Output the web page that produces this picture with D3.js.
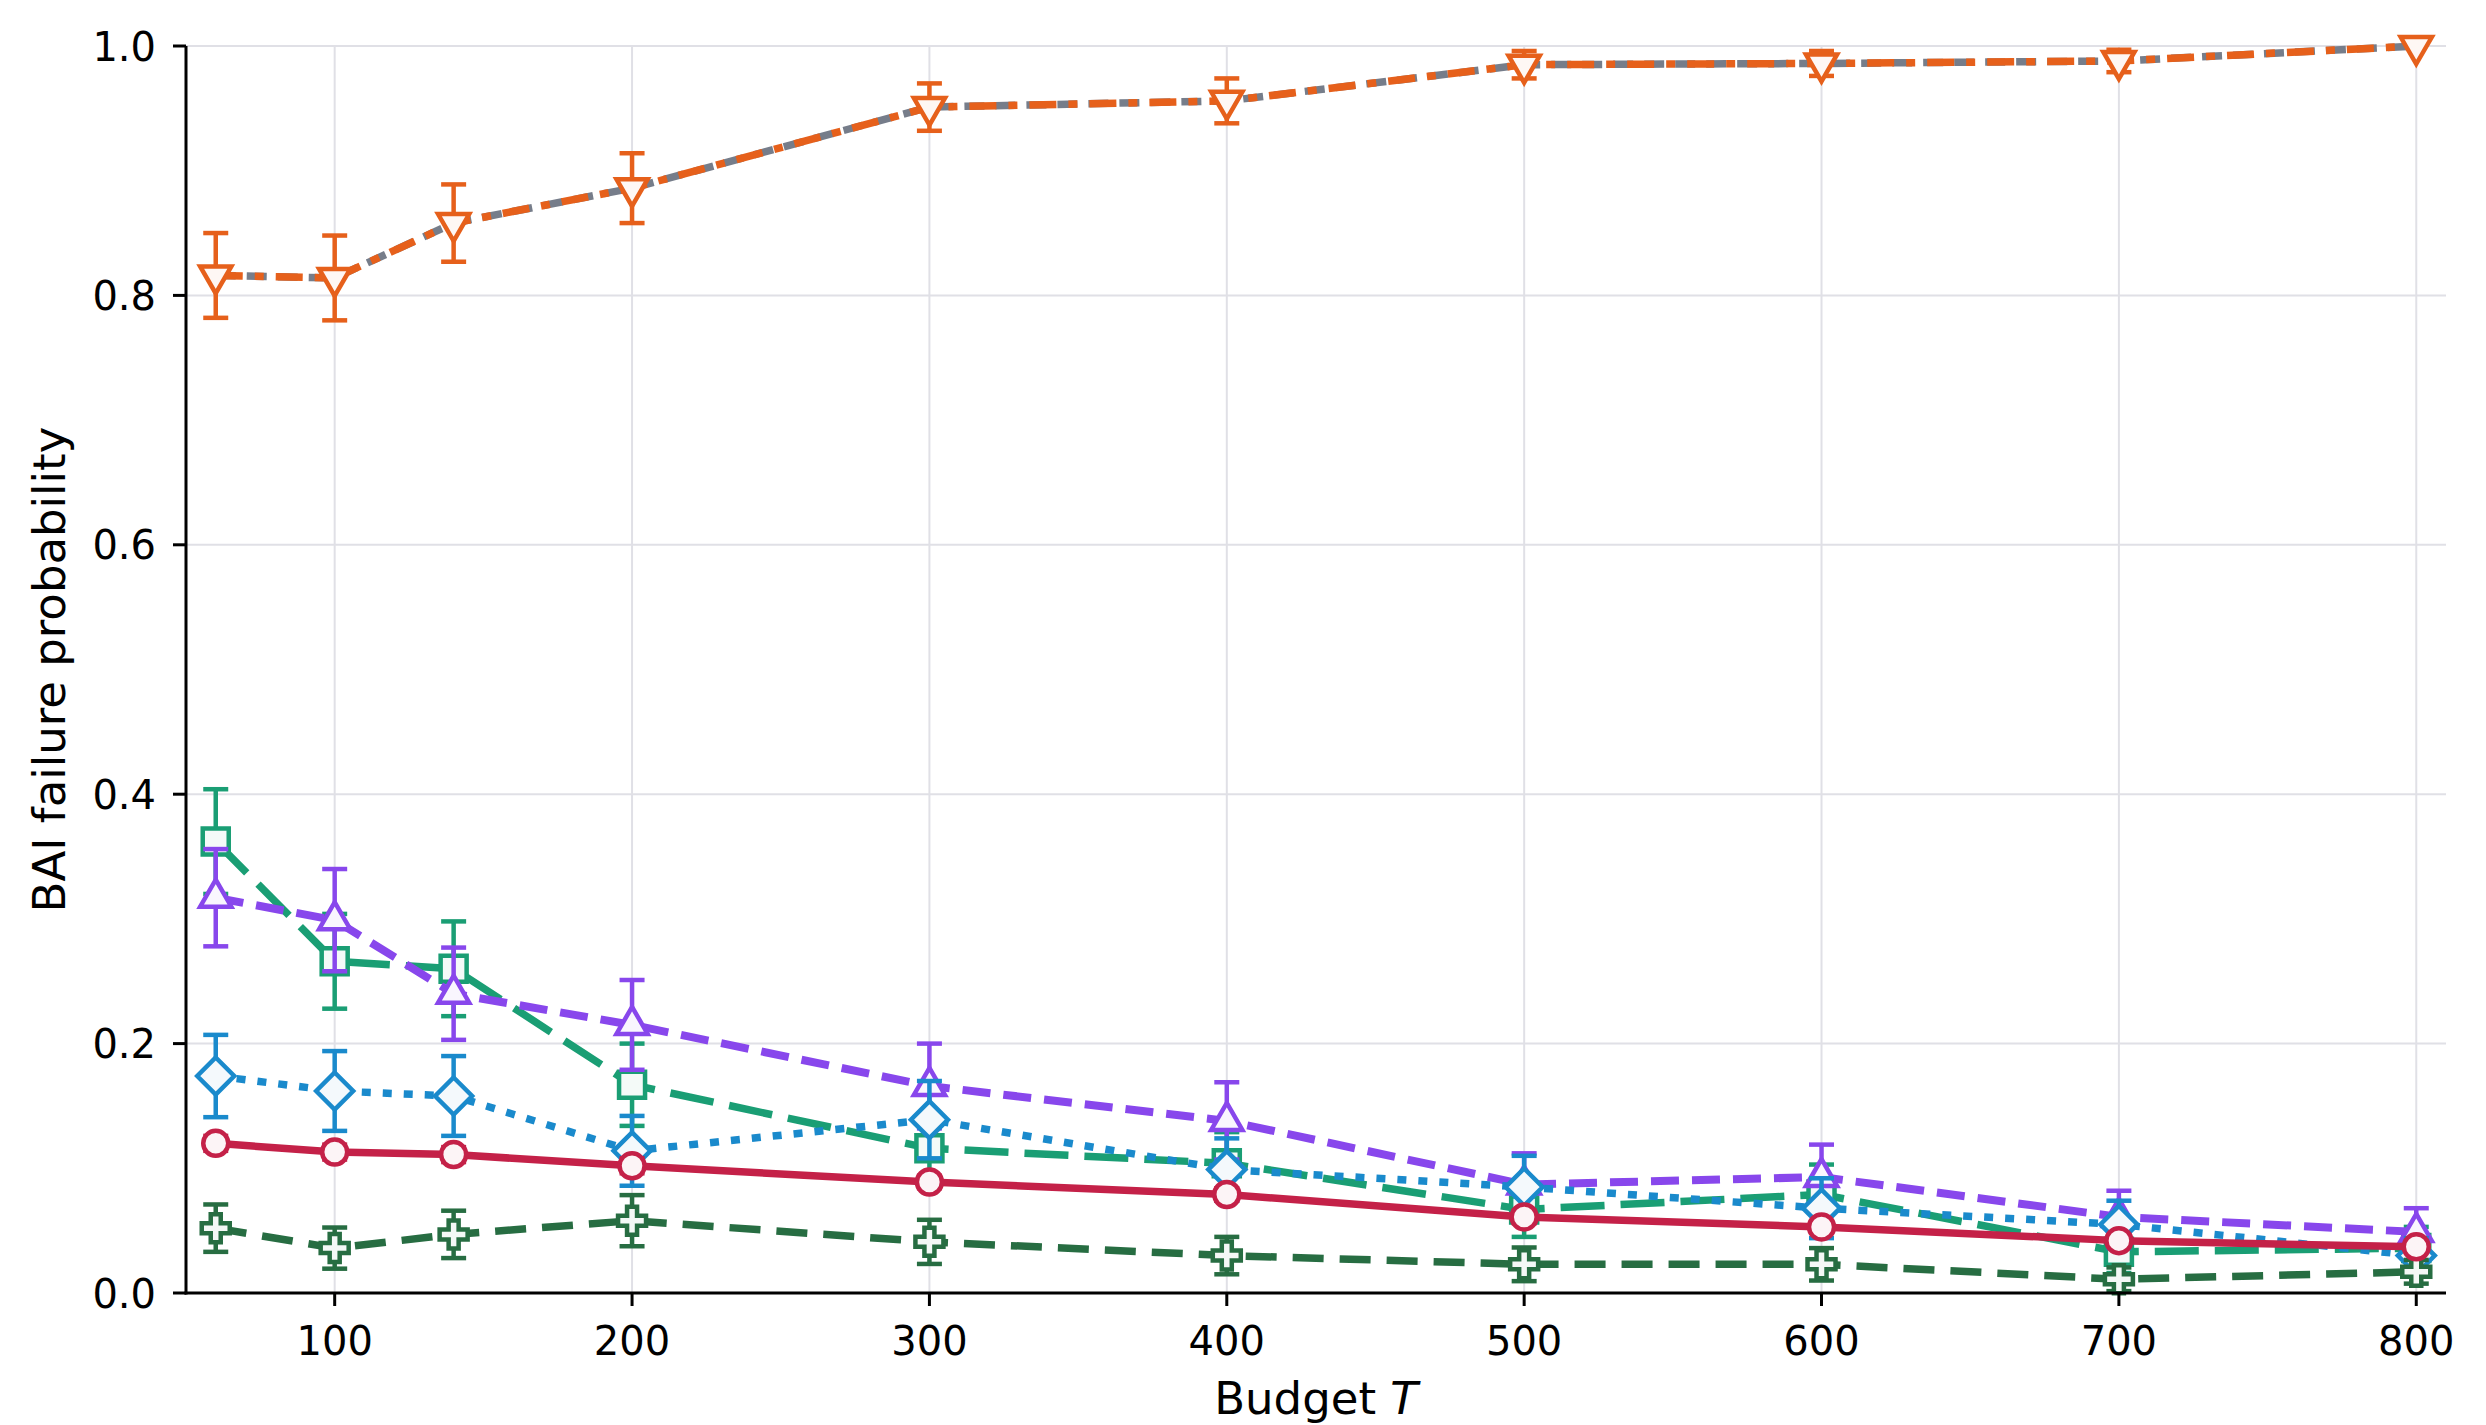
<!DOCTYPE html>
<html>
<head>
<meta charset="utf-8">
<script src="https://cdn.jsdelivr.net/npm/d3@7"></script>
<style>
  html, body { margin: 0; padding: 0; background: #ffffff; }
  svg { display: block; }
  text { font-family: "DejaVu Sans", sans-serif; fill: #000; }
</style>
</head>
<body>
<svg id="chart" width="2486" height="1425"></svg>
<script>
// ---------------- data ----------------
const budgets = [60, 100, 140, 200, 300, 400, 500, 600, 700, 800];
const xTicks = [100, 200, 300, 400, 500, 600, 700, 800];
const yTicks = [0.0, 0.2, 0.4, 0.6, 0.8, 1.0];
const xLabel = "Budget ";
const xLabelItalic = "T";
const yLabel = "BAI failure probability";

const greyMean    = [0.816, 0.814, 0.858, 0.886, 0.951, 0.956, 0.985, 0.986, 0.988, 1.000];
const greyErr     = [0.034, 0.034, 0.031, 0.028, 0.019, 0.018, 0.011, 0.010, 0.009, 0.000];
const orangeMean  = [0.816, 0.814, 0.858, 0.886, 0.951, 0.956, 0.985, 0.986, 0.988, 1.000];
const orangeErr   = [0.034, 0.034, 0.031, 0.028, 0.019, 0.018, 0.011, 0.010, 0.009, 0.000];
const tealMean    = [0.362, 0.266, 0.260, 0.167, 0.116, 0.104, 0.067, 0.079, 0.033, 0.036];
const tealErr     = [0.042, 0.038, 0.038, 0.033, 0.028, 0.025, 0.022, 0.024, 0.017, 0.017];
const purpleMean  = [0.317, 0.299, 0.240, 0.215, 0.166, 0.138, 0.087, 0.093, 0.061, 0.049];
const purpleErr   = [0.039, 0.041, 0.037, 0.036, 0.034, 0.031, 0.025, 0.026, 0.021, 0.019];
const blueMean    = [0.174, 0.162, 0.158, 0.114, 0.139, 0.099, 0.085, 0.068, 0.055, 0.030];
const blueErr     = [0.033, 0.032, 0.032, 0.028, 0.031, 0.025, 0.025, 0.024, 0.019, 0.014];
const darkMean    = [0.052, 0.036, 0.047, 0.058, 0.041, 0.030, 0.023, 0.023, 0.011, 0.017];
const darkErr     = [0.019, 0.0165, 0.019, 0.0205, 0.0177, 0.015, 0.0135, 0.013, 0.0095, 0.0095];
const crimsonMean = [0.120, 0.113, 0.111, 0.102, 0.089, 0.079, 0.061, 0.053, 0.042, 0.037];
const crimsonErr  = [0.006, 0.006, 0.006, 0.006, 0.005, 0.005, 0.005, 0.004, 0.004, 0.004];

// series styling (draw order = array order)
const series = [
  { mean: greyMean,    err: greyErr,    color: "#767d8a", dash: "20,11",        marker: null,    lw: 7.5, noErr: true },
  { mean: orangeMean,  err: orangeErr,  color: "#e6601b", dash: "27,12,9,12",   marker: "tdown", lw: 7.5 },
  { mean: tealMean,    err: tealErr,    color: "#1a9e74", dash: "44,16",        marker: "square",lw: 7.5 },
  { mean: purpleMean,  err: purpleErr,  color: "#8847ec", dash: "28,13",        marker: "tup",   lw: 8 },
  { mean: blueMean,    err: blueErr,    color: "#1a8acc", dash: "9,12",         marker: "diamond", lw: 7.5 },
  { mean: darkMean,    err: darkErr,    color: "#276d42", dash: "31,16",        marker: "plus",  lw: 7.5 },
  { mean: crimsonMean, err: crimsonErr, color: "#c42148", dash: null,           marker: "circle",lw: 7.5 }
];

// ---------------- layout ----------------
const W = 2486, H = 1425;
const plot = { left: 186, right: 2446, top: 46, bottom: 1293 };

const svg = d3.select("#chart");
const x = d3.scaleLinear().domain([50, 810]).range([plot.left, plot.right]);
const y = d3.scaleLinear().domain([0, 1]).range([plot.bottom, plot.top]);

// grid
const grid = svg.append("g");
grid.selectAll("line.gx").data(xTicks).enter().append("line")
  .attr("x1", d => x(d)).attr("x2", d => x(d))
  .attr("y1", plot.top).attr("y2", plot.bottom)
  .attr("stroke", "#e0e0e6").attr("stroke-width", 2);
grid.selectAll("line.gy").data(yTicks).enter().append("line")
  .attr("x1", plot.left).attr("x2", plot.right)
  .attr("y1", d => y(d)).attr("y2", d => y(d))
  .attr("stroke", "#e0e0e6").attr("stroke-width", 2);

// marker paths
function markerPath(type) {
  switch (type) {
    case "circle": return d3.symbol(d3.symbolCircle, Math.PI * 12.5 * 12.5)();
    case "square": { const s = 13; return `M${-s},${-s}H${s}V${s}H${-s}Z`; }
    case "tup":   { const r = 18; return `M0,${-r}L${r*0.866},${r*0.5}L${-r*0.866},${r*0.5}Z`; }
    case "tdown": { const r = 18; return `M0,${r}L${r*0.866},${-r*0.5}L${-r*0.866},${-r*0.5}Z`; }
    case "diamond": { const r = 18.5; return `M0,${-r}L${r},0L0,${r}L${-r},0Z`; }
    case "plus": { const a = 14, b = 5;
      return `M${-b},${-a}H${b}V${-b}H${a}V${b}H${b}V${a}H${-b}V${b}H${-a}V${-b}H${-b}Z`; }
  }
  return null;
}

const capHalf = 12.5;
const lineGen = d3.line().x((d, i) => x(budgets[i])).y(d => y(d));

series.forEach(s => {
  const g = svg.append("g");
  // error bars
  if (!s.noErr) {
    const eb = g.append("g").attr("stroke", s.color).attr("stroke-width", 4.5);
    budgets.forEach((b, i) => {
      const lo = s.mean[i] - s.err[i], hi = s.mean[i] + s.err[i];
      if (s.err[i] <= 0) return;
      eb.append("line").attr("x1", x(b)).attr("x2", x(b)).attr("y1", y(lo)).attr("y2", y(hi));
      eb.append("line").attr("x1", x(b) - capHalf).attr("x2", x(b) + capHalf).attr("y1", y(lo)).attr("y2", y(lo));
      eb.append("line").attr("x1", x(b) - capHalf).attr("x2", x(b) + capHalf).attr("y1", y(hi)).attr("y2", y(hi));
    });
  }
  // line
  g.append("path").datum(s.mean)
    .attr("d", lineGen)
    .attr("fill", "none")
    .attr("stroke", s.color)
    .attr("stroke-width", s.lw)
    .attr("stroke-dasharray", s.dash)
    .attr("stroke-linejoin", "round");
  // markers
  if (s.marker) {
    const fill = d3.interpolateRgb("#ffffff", s.color)(0.05);
    g.selectAll("path.m").data(s.mean).enter().append("path")
      .attr("d", markerPath(s.marker))
      .attr("transform", (d, i) => `translate(${x(budgets[i])},${y(d)})`)
      .attr("fill", fill)
      .attr("stroke", s.color)
      .attr("stroke-width", 4.5)
      .attr("stroke-linejoin", "miter");
  }
});

// axes spines
svg.append("line").attr("x1", plot.left).attr("x2", plot.left)
  .attr("y1", plot.top).attr("y2", plot.bottom + 1.5)
  .attr("stroke", "#000").attr("stroke-width", 3);
svg.append("line").attr("x1", plot.left - 1.5).attr("x2", plot.right)
  .attr("y1", plot.bottom).attr("y2", plot.bottom)
  .attr("stroke", "#000").attr("stroke-width", 3);

// ticks
const xt = svg.append("g");
xTicks.forEach(t => {
  xt.append("line").attr("x1", x(t)).attr("x2", x(t))
    .attr("y1", plot.bottom).attr("y2", plot.bottom + 13)
    .attr("stroke", "#000").attr("stroke-width", 3);
  xt.append("text").attr("x", x(t)).attr("y", plot.bottom + 62)
    .attr("text-anchor", "middle").attr("font-size", 40).text(d3.format("d")(t));
});
const yt = svg.append("g");
yTicks.forEach(t => {
  yt.append("line").attr("x1", plot.left - 13).attr("x2", plot.left)
    .attr("y1", y(t)).attr("y2", y(t))
    .attr("stroke", "#000").attr("stroke-width", 3);
  yt.append("text").attr("x", plot.left - 30).attr("y", y(t) + 14.5)
    .attr("text-anchor", "end").attr("font-size", 40).text(d3.format(".1f")(t));
});

// axis labels
const xl = svg.append("text")
  .attr("x", (plot.left + plot.right) / 2).attr("y", 1414)
  .attr("text-anchor", "middle").attr("font-size", 45);
xl.append("tspan").text(xLabel);
xl.append("tspan").attr("font-style", "italic").text(xLabelItalic);

svg.append("text")
  .attr("transform", `translate(65,${(plot.top + plot.bottom) / 2}) rotate(-90)`)
  .attr("text-anchor", "middle").attr("font-size", 45)
  .text(yLabel);
</script>
</body>
</html>
